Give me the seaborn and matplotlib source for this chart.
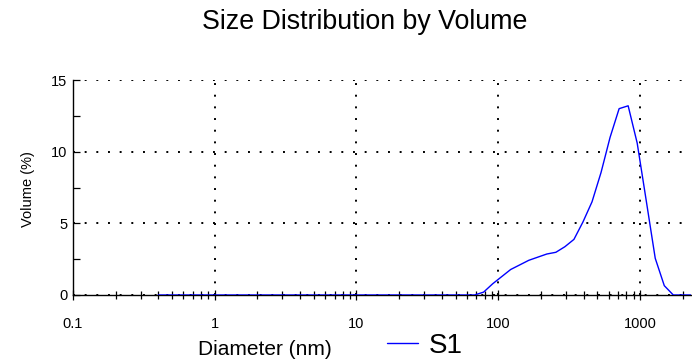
import matplotlib
matplotlib.use("Agg")
import matplotlib.pyplot as plt
import matplotlib.ticker as mticker
import seaborn as sns
import pandas as pd

sns.set_style("white")
plt.rcParams['font.family'] = ['Liberation Sans', 'DejaVu Sans']
plt.rcParams['text.color'] = 'black'
plt.rcParams['axes.labelcolor'] = 'black'

# Zetasizer size bins (nm)
diameter_nm = [0.4000, 0.4632, 0.5365, 0.6213, 0.7195, 0.8332, 0.9649, 1.117, 1.294, 1.499,
               1.736, 2.010, 2.328, 2.696, 3.122, 3.615, 4.187, 4.849, 5.615, 6.503,
               7.531, 8.721, 10.10, 11.70, 13.54, 15.69, 18.17, 21.04, 24.36, 28.21,
               32.67, 37.84, 43.82, 50.75, 58.77, 68.06, 78.82, 91.28, 105.7, 122.4,
               141.8, 164.2, 190.1, 220.2, 255.0, 295.3, 342.0, 396.1, 458.7, 531.2,
               615.1, 712.4, 825.0, 955.4, 1106, 1281, 1484, 1718, 1990, 2305]
volume_pct = [0, 0, 0, 0, 0, 0, 0, 0, 0, 0,
              0, 0, 0, 0, 0, 0, 0, 0, 0, 0,
              0, 0, 0, 0, 0, 0, 0, 0, 0, 0,
              0, 0, 0, 0, 0, 0, 0.2, 0.78, 1.28, 1.78,
              2.10, 2.42, 2.64, 2.86, 2.98, 3.37, 3.88, 5.1, 6.5, 8.55,
              11.0, 13.0, 13.2, 10.6, 6.6, 2.56, 0.65, 0, 0, 0]
series_name = "S1"
x_tick_values = [0.1, 1, 10, 100, 1000]
x_tick_labels = ["0.1", "1", "10", "100", "1000"]
y_tick_values = [0, 5, 10, 15]

df = pd.DataFrame({"Diameter": diameter_nm, "Volume": volume_pct, "Record": series_name})

fig = plt.figure(figsize=(6.92, 3.63), dpi=100)
ax = fig.add_axes([73/692, 1-295/363, 618/692, 215/363])

sns.lineplot(data=df, x="Diameter", y="Volume", color="#0000ff", linewidth=1.0,
             ax=ax, legend=False, clip_on=True, zorder=3)

ax.set_xscale("log")
ax.set_xlim(0.1, 2290)
ax.set_ylim(0, 15)

ax.set_xticks(x_tick_values)
ax.set_xticklabels(x_tick_labels)
ax.xaxis.set_minor_locator(mticker.LogLocator(base=10, subs=[2, 3, 4, 5, 6, 7, 8, 9], numticks=20))
ax.xaxis.set_minor_formatter(mticker.NullFormatter())
ax.set_yticks(y_tick_values)
ax.set_yticklabels([str(v) for v in y_tick_values])
ax.yaxis.set_minor_locator(mticker.MultipleLocator(2.5))

ax.tick_params(which="both", bottom=True, left=True, top=False, right=False)
ax.tick_params(axis="x", which="major", direction="inout", length=7, width=0.9, colors="black",
               labelsize=10.5, pad=12.5)
ax.tick_params(axis="x", which="minor", direction="inout", length=6, width=0.9, colors="black")
ax.tick_params(axis="y", which="major", direction="in", length=5, width=0.9, colors="black",
               labelsize=10.5, pad=4)
ax.tick_params(axis="y", which="minor", direction="in", length=5, width=0.9, colors="black")

for s in ["top", "right"]:
    ax.spines[s].set_visible(False)
for s in ["left", "bottom"]:
    ax.spines[s].set_color("black")
    ax.spines[s].set_linewidth(1.0)

ax.grid(True, which="major", color="black", linestyle=(0, (1, 5)), linewidth=1.4)
ax.set_xlabel("")
ax.set_ylabel("")

fig.text(365/692, 1-29/363, "Size Distribution by Volume", ha="center", va="baseline",
         fontsize=19.3, color="black")
fig.text(265/692, 1-355/363, "Diameter (nm)", ha="center", va="baseline", fontsize=15,
         color="black")
fig.text(28/692, 1-189/363, "Volume (%)", ha="center", va="center", rotation=90,
         fontsize=10.5, color="black")

leg = fig.legend(handles=ax.lines[:1], labels=[series_name], loc="center left",
                 bbox_to_anchor=(387/692, 1-346/363), frameon=False, fontsize=20,
                 handlelength=1.1, handletextpad=0.4, borderpad=0, borderaxespad=0)
for t in leg.get_texts():
    t.set_color("black")

fig.savefig("out.png", dpi=100)
